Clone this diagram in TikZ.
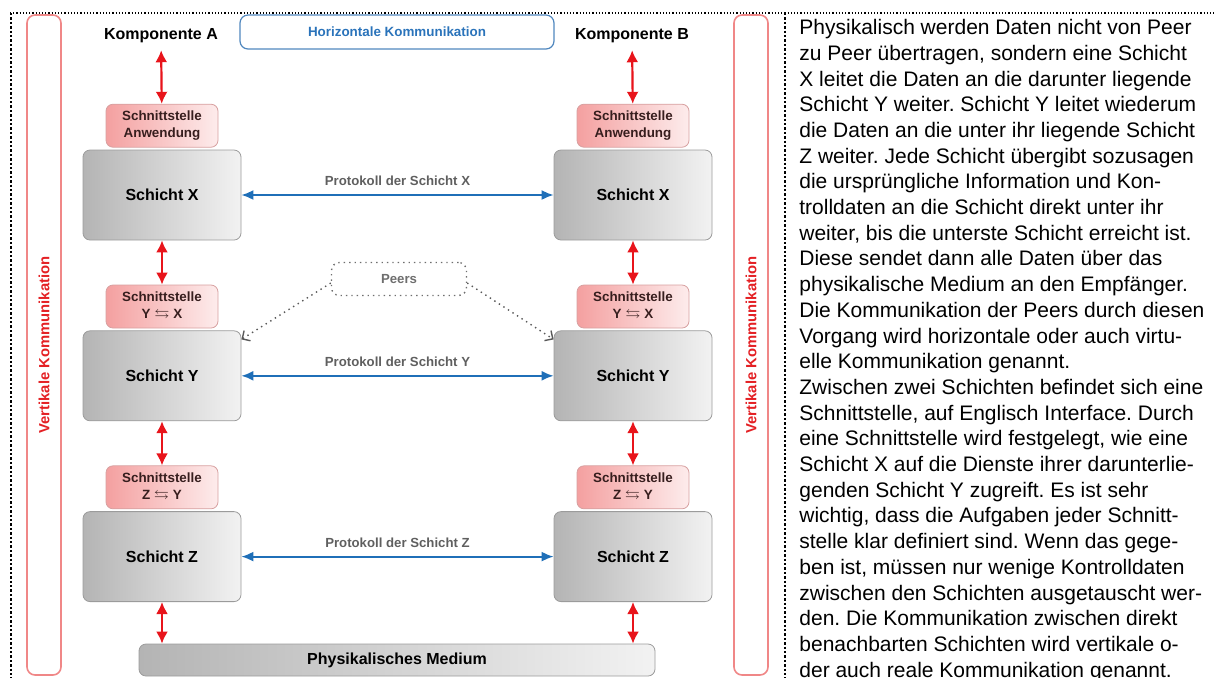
\documentclass[tikz,border=0pt]{standalone}
\usepackage{amssymb}
\usepackage{fontspec}
\setmainfont{Liberation Sans}
\usetikzlibrary{positioning,arrows.meta}
\definecolor{vred}{RGB}{232,20,27}
\definecolor{hblue}{RGB}{31,111,184}
\definecolor{layerdark}{RGB}{180,180,180}
\definecolor{layerlight}{RGB}{242,242,242}
\definecolor{layerline}{RGB}{155,155,155}
\definecolor{ifacedark}{RGB}{244,160,160}
\definecolor{ifacelight}{RGB}{253,236,236}
\definecolor{ifaceline}{RGB}{215,160,160}
\definecolor{ifacetext}{RGB}{55,30,30}
\definecolor{vboxline}{RGB}{240,135,135}
\definecolor{vtext}{RGB}{228,32,36}
\definecolor{hboxline}{RGB}{80,135,190}
\definecolor{htext}{RGB}{42,115,186}
\definecolor{protogray}{RGB}{95,95,95}
\definecolor{peergray}{RGB}{110,110,110}
\frenchspacing
\begin{document}
\begin{tikzpicture}[x=0.5pt, y=-0.5pt]
        \tikzstyle{layer} = [rectangle, rounded corners=3.5pt, draw=layerline, left color=layerdark, right color=layerlight, minimum width=79pt, minimum height=45pt, font=\bfseries\fontsize{8}{9.6}\selectfont]
        \tikzstyle{iface} = [rectangle, rounded corners=3.5pt, draw=ifaceline, left color=ifacedark, right color=ifacelight, minimum width=56pt, minimum height=21.5pt, align=center, text=ifacetext, font=\bfseries\fontsize{6.7}{8.3}\selectfont]
        \tikzstyle{comp} = [font=\bfseries\fontsize{8}{9.6}\selectfont]
        \tikzstyle{vbox} = [rectangle, rounded corners=4pt, draw=vboxline, line width=0.8pt, fill=white, rotate=90, minimum width=330pt, minimum height=17pt, text=vtext, font=\bfseries\fontsize{7.4}{8.5}\selectfont]
        \tikzstyle{hbox} = [rectangle, rounded corners=4pt, draw=hboxline, line width=0.6pt, minimum width=157pt, minimum height=17pt, text=htext, font=\bfseries\fontsize{6.7}{8}\selectfont]
        \tikzstyle{peer} = [rectangle, rounded corners=4pt, draw=peergray, dotted, line width=0.7pt, minimum width=67.5pt, minimum height=16.5pt, text=peergray, font=\bfseries\fontsize{6.6}{8}\selectfont]
        \tikzstyle{proto} = [above, inner sep=4pt, text=protogray, font=\bfseries\fontsize{6.6}{8}\selectfont]
        \tikzstyle{vline} = [draw=vred, line width=1.1pt, {Latex[length=6pt,width=6pt]}-{Latex[length=6pt,width=6pt]}]
        \tikzstyle{hline} = [draw=hblue, line width=0.9pt, {Latex[length=6pt,width=5pt]}-{Latex[length=6pt,width=5pt]}]
        \tikzstyle{peerline} = [draw=black!65, dotted, line width=0.7pt, -{Straight Barb[length=3pt,width=6pt]}]
        \tikzstyle{frameline} = [draw=black, densely dotted, line width=0.6pt]
        \useasboundingbox (0,0) rectangle (1216,677);
        \clip (0,0) rectangle (1216,677);
        % Rahmen
        \draw [frameline] (10,13) -- (1216,13);
        \draw [frameline, line width=1.2pt] (11,13) -- (11,690);
        \draw [frameline, line width=1.2pt] (785,13) -- (785,690);
        % Seitenbalken
        \node [vbox] (vka) at (44,345) {Vertikale Kommunikation};
        \node [vbox] (vkb) at (751,345) {Vertikale Kommunikation};
        \node [hbox] (hk) at (397,32) {Horizontale Kommunikation};
        % Komponente A
        \node [comp] (ka) at (161,36) {Komponente A};
        \node [layer] (xa) at (162,195) {Schicht X};
        \node [layer, below=45pt of xa] (ya) {Schicht Y};
        \node [layer, below=45pt of ya] (za) {Schicht Z};
        \node [iface, above=1pt of xa] (ia) {Schnittstelle\\Anwendung};
        \node [iface, above=1pt of ya] (iya) {Schnittstelle\\Y $\leftrightarrows$ X};
        \node [iface, above=1pt of za] (iza) {Schnittstelle\\Z $\leftrightarrows$ Y};
        % Komponente B
        \node [comp] (kb) at (632,36) {Komponente B};
        \node [layer] (xb) at (633,195) {Schicht X};
        \node [layer, below=45pt of xb] (yb) {Schicht Y};
        \node [layer, below=45pt of yb] (zb) {Schicht Z};
        \node [iface, above=1pt of xb] (ib) {Schnittstelle\\Anwendung};
        \node [iface, above=1pt of yb] (iyb) {Schnittstelle\\Y $\leftrightarrows$ X};
        \node [iface, above=1pt of zb] (izb) {Schnittstelle\\Z $\leftrightarrows$ Y};
        \node [layer, minimum width=258pt, minimum height=16pt] (med) at (397,660) {Physikalisches Medium};
        \node [peer] (peers) at (399,279) {Peers};
        % vertikale Pfeile
        \path [vline] (ka) -- (ia);
        \path [vline] (xa) -- (iya);
        \path [vline] (ya) -- (iza);
        \path [vline] (za) -- (za |- med.north);
        \path [vline] (kb) -- (ib);
        \path [vline] (xb) -- (iyb);
        \path [vline] (yb) -- (izb);
        \path [vline] (zb) -- (zb |- med.north);
        % horizontale Pfeile
        \path [hline] (xa) -- node[proto] {Protokoll der Schicht X} (xb);
        \path [hline] (ya) -- node[proto] {Protokoll der Schicht Y} (yb);
        \path [hline] (za) -- node[proto] {Protokoll der Schicht Z} (zb);
        \path [peerline] ([yshift=-2pt]peers.west) -- ([yshift=-4.5pt]ya.north east);
        \path [peerline] ([yshift=-2pt]peers.east) -- ([yshift=-4.5pt]yb.north west);
        % Erklaerung
        \node [anchor=north west, inner sep=0pt, align=left, font=\fontsize{10.5}{12.85}\selectfont] (info) at (799,19) {%
Physikalisch werden Daten nicht von Peer\\
zu Peer übertragen, sondern eine Schicht\\
X leitet die Daten an die darunter liegende\\
Schicht Y weiter. Schicht Y leitet wiederum\\
die Daten an die unter ihr liegende Schicht\\
Z weiter. Jede Schicht übergibt sozusagen\\
die ursprüngliche Information und Kon-\\
trolldaten an die Schicht direkt unter ihr\\
weiter, bis die unterste Schicht erreicht ist.\\
Diese sendet dann alle Daten über das\\
physikalische Medium an den Empfänger.\\
Die Kommunikation der Peers durch diesen\\
Vorgang wird horizontale oder auch virtu-\\
elle Kommunikation genannt.\\
Zwischen zwei Schichten befindet sich eine\\
Schnittstelle, auf Englisch Interface. Durch\\
eine Schnittstelle wird festgelegt, wie eine\\
Schicht X auf die Dienste ihrer darunterlie-\\
genden Schicht Y zugreift. Es ist sehr\\
wichtig, dass die Aufgaben jeder Schnitt-\\
stelle klar definiert sind. Wenn das gege-\\
ben ist, müssen nur wenige Kontrolldaten\\
zwischen den Schichten ausgetauscht wer-\\
den. Die Kommunikation zwischen direkt\\
benachbarten Schichten wird vertikale o-\\
der auch reale Kommunikation genannt.};
\end{tikzpicture}
\end{document}
